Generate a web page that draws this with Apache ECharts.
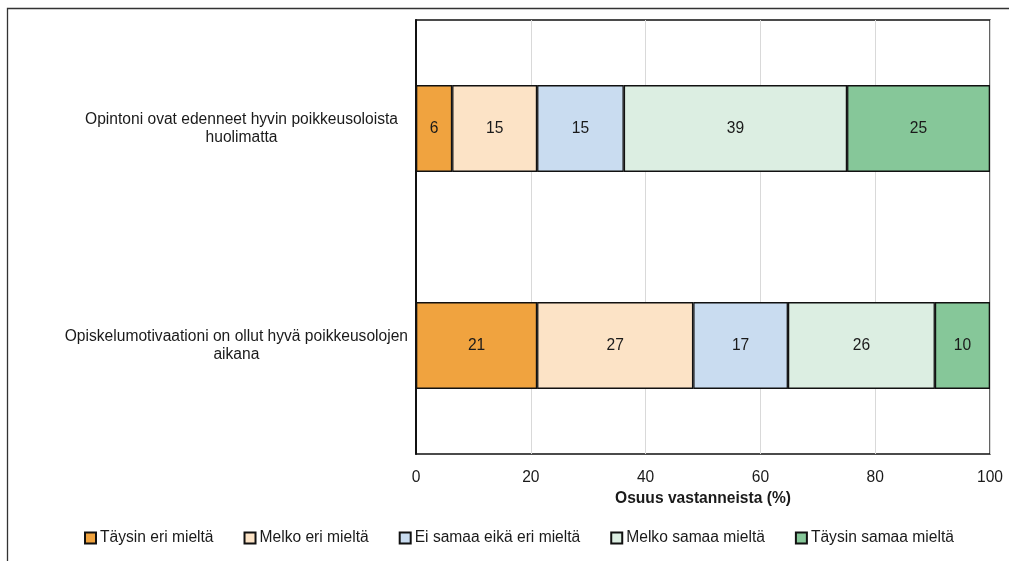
<!DOCTYPE html>
<html>
<head>
<meta charset="utf-8">
<script src="https://cdn.jsdelivr.net/npm/echarts@6/dist/echarts.min.js"></script>
<style>
html,body{margin:0;padding:0;background:#fff;}
#chart{width:1009px;height:561px;}
</style>
</head>
<body>
<div id="chart"></div>
<script>
var categories = [
  'Opintoni ovat edenneet hyvin poikkeusoloista huolimatta',
  'Opiskelumotivaationi on ollut hyvä poikkeusolojen aikana'
];
var seriesNames = ['Täysin eri mieltä', 'Melko eri mieltä', 'Ei samaa eikä eri mieltä', 'Melko samaa mieltä', 'Täysin samaa mieltä'];
var taysinEri = [6.3, 21.1];
var melkoEri = [14.8, 27.2];
var eiSamaaEikaEri = [15.1, 16.5];
var melkoSamaa = [38.9, 25.6];
var taysinSamaa = [24.9, 9.6];
var xTicks = [0, 20, 40, 60, 80, 100];

var colors = ['#F0A33F', '#FCE3C6', '#C9DCF0', '#DCEEE2', '#86C799'];
var seriesData = [taysinEri, melkoEri, eiSamaaEikaEri, melkoSamaa, taysinSamaa];
var FONT = '"Liberation Sans", Arial, sans-serif';
var FS = 15.6;

var chart = echarts.init(document.getElementById('chart'));
var series = seriesNames.map(function (name, i) {
  return {
    name: name,
    type: 'bar',
    stack: 'total',
    barWidth: '40%',
    data: seriesData[i],
    itemStyle: { color: colors[i], borderColor: '#111', borderWidth: 1.3 },
    label: {
      show: true,
      position: 'inside',
      color: '#1a1a1a',
      fontSize: FS,
      fontFamily: FONT,
      formatter: function (p) { return Math.round(p.value); }
    }
  };
});

chart.setOption({
  animation: false,
  textStyle: { fontFamily: FONT },
  graphic: [{
    type: 'rect',
    silent: true,
    shape: { x: 7.5, y: 8.5, width: 1100, height: 700 },
    style: { fill: 'none', stroke: '#333', lineWidth: 1.3 }
  }],
  grid: {
    left: 416, right: 19, top: 20, bottom: 107,
    show: true, borderColor: '#111', borderWidth: 1.3, backgroundColor: 'transparent'
  },
  legend: {
    data: seriesNames,
    left: 79,
    top: 525,
    icon: 'rect',
    itemWidth: 11,
    itemHeight: 11,
    itemGap: 30,
    textStyle: { fontSize: FS, color: '#1a1a1a', fontFamily: FONT, padding: [0, 0, 0, -1] }
  },
  xAxis: {
    type: 'value',
    min: xTicks[0],
    max: xTicks[xTicks.length - 1],
    interval: xTicks[1] - xTicks[0],
    name: 'Osuus vastanneista (%)',
    nameLocation: 'middle',
    nameGap: 30,
    nameTextStyle: { fontSize: FS, fontWeight: 'bold', color: '#1a1a1a', fontFamily: FONT },
    axisLine: { show: false },
    axisTick: { show: false },
    axisLabel: { fontSize: FS, color: '#1a1a1a', margin: 16, fontFamily: FONT },
    splitLine: { show: true, lineStyle: { color: '#d9d9d9', width: 1 } }
  },
  yAxis: {
    type: 'category',
    inverse: true,
    data: categories,
    axisLine: { show: true, lineStyle: { color: '#111', width: 2 } },
    axisTick: { show: false },
    axisLabel: {
      margin: 8,
      align: 'right',
      fontSize: FS,
      color: '#1a1a1a',
      fontFamily: FONT,
      lineHeight: 18,
      formatter: function (v, idx) {
        var k = v.lastIndexOf(' ');
        var key = idx === 0 ? 'a' : 'b';
        return '{' + key + '|' + v.slice(0, k) + '}\n{' + key + '|' + v.slice(k + 1) + '}';
      },
      rich: {
        a: { align: 'center', fontSize: FS, lineHeight: 18, color: '#1a1a1a', fontFamily: FONT, padding: [0, 10, 0, 0] },
        b: { align: 'center', fontSize: FS, lineHeight: 18, color: '#1a1a1a', fontFamily: FONT }
      }
    }
  },
  series: series
});
</script>
</body>
</html>
